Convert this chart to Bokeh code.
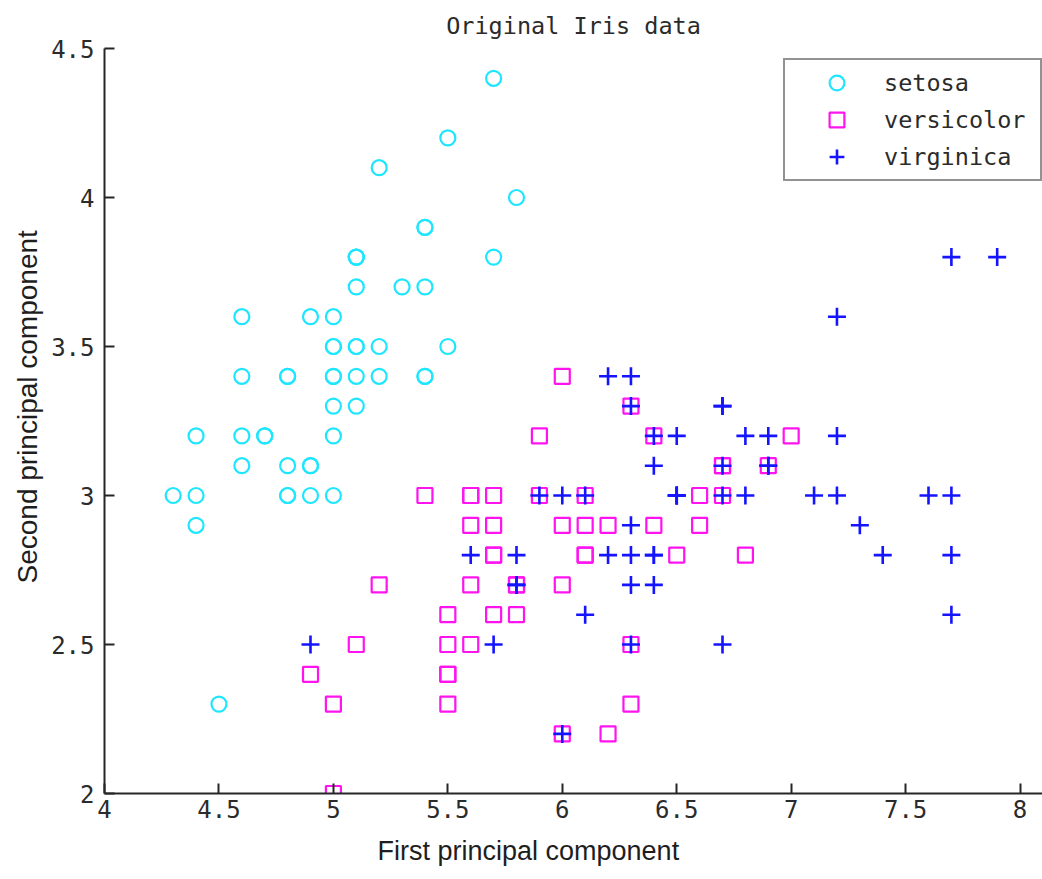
from bokeh.plotting import figure
from bokeh.models import (ColumnDataSource, FixedTicker, Legend, LegendItem, Range1d, Title)
from bokeh.embed import file_html
from bokeh.resources import INLINE

# Fisher iris: sepal length (x) against sepal width (y)
setosa_x = [5.1, 4.9, 4.7, 4.6, 5.0, 5.4, 4.6, 5.0, 4.4, 4.9, 5.4, 4.8, 4.8, 4.3, 5.8, 5.7, 5.4,
            5.1, 5.7, 5.1, 5.4, 5.1, 4.6, 5.1, 4.8, 5.0, 5.0, 5.2, 5.2, 4.7, 4.8, 5.4, 5.2, 5.5,
            4.9, 5.0, 5.5, 4.9, 4.4, 5.1, 5.0, 4.5, 4.4, 5.0, 5.1, 4.8, 5.1, 4.6, 5.3, 5.0]
setosa_y = [3.5, 3.0, 3.2, 3.1, 3.6, 3.9, 3.4, 3.4, 2.9, 3.1, 3.7, 3.4, 3.0, 3.0, 4.0, 4.4, 3.9,
            3.5, 3.8, 3.8, 3.4, 3.7, 3.6, 3.3, 3.4, 3.0, 3.4, 3.5, 3.4, 3.2, 3.1, 3.4, 4.1, 4.2,
            3.1, 3.2, 3.5, 3.6, 3.0, 3.4, 3.5, 2.3, 3.2, 3.5, 3.8, 3.0, 3.8, 3.2, 3.7, 3.3]

versicolor_x = [7.0, 6.4, 6.9, 5.5, 6.5, 5.7, 6.3, 4.9, 6.6, 5.2, 5.0, 5.9, 6.0, 6.1, 5.6, 6.7, 5.6,
                5.8, 6.2, 5.6, 5.9, 6.1, 6.3, 6.1, 6.4, 6.6, 6.8, 6.7, 6.0, 5.7, 5.5, 5.5, 5.8, 6.0,
                5.4, 6.0, 6.7, 6.3, 5.6, 5.5, 5.5, 6.1, 5.8, 5.0, 5.6, 5.7, 5.7, 6.2, 5.1, 5.7]
versicolor_y = [3.2, 3.2, 3.1, 2.3, 2.8, 2.8, 3.3, 2.4, 2.9, 2.7, 2.0, 3.0, 2.2, 2.9, 2.9, 3.1, 3.0,
                2.7, 2.2, 2.5, 3.2, 2.8, 2.5, 2.8, 2.9, 3.0, 2.8, 3.0, 2.9, 2.6, 2.4, 2.4, 2.7, 2.7,
                3.0, 3.4, 3.1, 2.3, 3.0, 2.5, 2.6, 3.0, 2.6, 2.3, 2.7, 3.0, 2.9, 2.9, 2.5, 2.8]

virginica_x = [6.3, 5.8, 7.1, 6.3, 6.5, 7.6, 4.9, 7.3, 6.7, 7.2, 6.5, 6.4, 6.8, 5.7, 5.8, 6.4, 6.5,
               7.7, 7.7, 6.0, 6.9, 5.6, 7.7, 6.3, 6.7, 7.2, 6.2, 6.1, 6.4, 7.2, 7.4, 7.9, 6.4, 6.3,
               6.1, 7.7, 6.3, 6.4, 6.0, 6.9, 6.7, 6.9, 5.8, 6.8, 6.7, 6.7, 6.3, 6.5, 6.2, 5.9]
virginica_y = [3.3, 2.7, 3.0, 2.9, 3.0, 3.0, 2.5, 2.9, 2.5, 3.6, 3.2, 2.7, 3.0, 2.5, 2.8, 3.2, 3.0,
               3.8, 2.6, 2.2, 3.2, 2.8, 2.8, 2.7, 3.3, 3.2, 2.8, 3.0, 2.8, 3.0, 2.8, 3.8, 2.8, 2.8,
               2.6, 3.0, 3.4, 3.1, 3.0, 3.1, 3.1, 3.1, 2.7, 3.2, 3.3, 3.0, 2.5, 3.0, 3.4, 3.0]

x_ticks = [4, 4.5, 5, 5.5, 6, 6.5, 7, 7.5, 8]
x_tick_labels = ["4", "4.5", "5", "5.5", "6", "6.5", "7", "7.5", "8"]
y_ticks = [2, 2.5, 3, 3.5, 4, 4.5]
y_tick_labels = ["2", "2.5", "3", "3.5", "4", "4.5"]

MONO = "DejaVu Sans Mono"
SANS = "Liberation Sans"
INK = "#262626"

p = figure(width=1042, height=879, output_backend="svg", toolbar_location=None,
           x_range=Range1d(4, 8.098), y_range=Range1d(2, 4.5),
           min_border_left=104, min_border_right=0, min_border_top=48, min_border_bottom=85)
p.outline_line_color = None
p.xgrid.visible = False
p.ygrid.visible = False
p.background_fill_color = "white"
p.border_fill_color = "white"

for ax, ticks, labels in ((p.xaxis[0], x_ticks, x_tick_labels), (p.yaxis[0], y_ticks, y_tick_labels)):
    ax.ticker = FixedTicker(ticks=ticks, minor_ticks=[])
    ax.major_label_overrides = {t: s for t, s in zip(ticks, labels)}
    ax.major_tick_in = 10
    ax.major_tick_out = 0
    ax.minor_tick_in = 0
    ax.minor_tick_out = 0
    ax.axis_line_color = INK
    ax.axis_line_width = 2
    ax.major_tick_line_color = INK
    ax.major_tick_line_width = 2
    ax.major_label_text_font = MONO
    ax.major_label_text_font_size = "24px"
    ax.major_label_text_color = "#2b2b2b"
p.xaxis.major_label_standoff = 6
p.yaxis.major_label_standoff = 10

src_s = ColumnDataSource(dict(x=setosa_x, y=setosa_y))
src_ve = ColumnDataSource(dict(x=versicolor_x, y=versicolor_y))
src_vi = ColumnDataSource(dict(x=virginica_x, y=virginica_y))

r_s = p.scatter("x", "y", source=src_s, marker="circle", size=15, fill_color=None,
                line_color="#1fe6ff", line_width=2.2)
r_ve = p.scatter("x", "y", source=src_ve, marker="square", size=15, fill_color=None,
                 line_color="#ff14f0", line_width=2.2)
r_vi = p.scatter("x", "y", source=src_vi, marker="cross", size=18, fill_color=None,
                 line_color="#1414ff", line_width=2.6)

legend = Legend(items=[LegendItem(label="setosa", renderers=[r_s]),
                       LegendItem(label="versicolor", renderers=[r_ve]),
                       LegendItem(label="virginica", renderers=[r_vi])],
                location=(679, 612), orientation="vertical",
                padding=4, spacing=0, margin=0,
                glyph_width=95, glyph_height=37, label_height=37, label_width=152,
                label_standoff=0,
                label_text_font=MONO, label_text_font_size="23.5px", label_text_color="#2b2b2b",
                border_line_color=INK, border_line_width=2, background_fill_alpha=1.0)
p.add_layout(legend, "center")

# chart title, above the frame
p.add_layout(Title(text="Original Iris data", align="center", standoff=18,
                   text_font=MONO, text_font_size="23.5px", text_font_style="normal",
                   text_color="#2b2b2b"), "above")
# axis titles, placed with pixel offsets along their panels
p.add_layout(Title(text="First principal component", align="left", offset=273, standoff=27,
                   text_font=SANS, text_font_size="27px", text_font_style="normal",
                   text_color="#1e1e1e"), "below")
p.add_layout(Title(text="Second principal component", align="left", offset=210, standoff=12,
                   text_font=SANS, text_font_size="28px", text_font_style="normal",
                   text_color="#1e1e1e"), "left")

open("out.html", "w").write(file_html(p, INLINE))
